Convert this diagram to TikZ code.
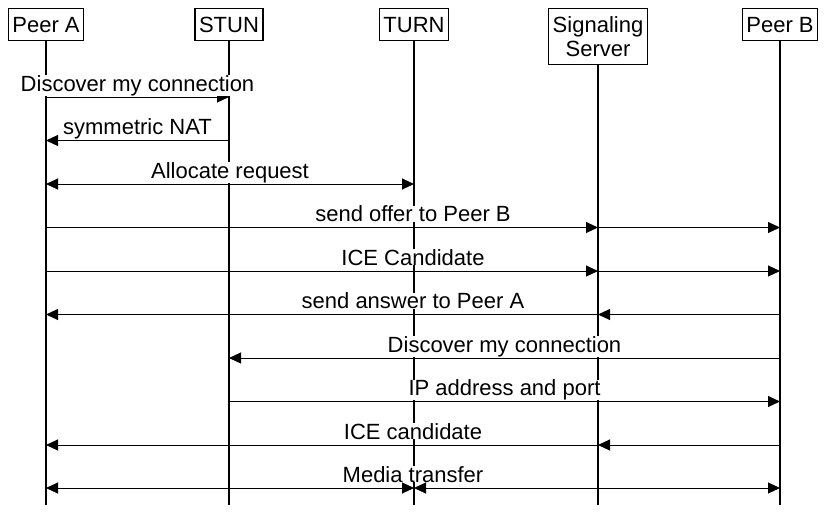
\documentclass[tikz,border=0pt]{standalone}
\usepackage{fontspec}
\setmainfont{Liberation Sans}
\usetikzlibrary{arrows.meta}
\begin{document}
\begin{tikzpicture}[x=1pt, y=1pt, font=\fontsize{22}{24}\selectfont,
  >={Triangle[length=12pt, width=11pt]},
  actor/.style = {draw, line width=1.2pt, anchor=north, inner xsep=4pt, inner ysep=3pt, minimum height=32pt},
  life/.style = {line width=2.4pt},
  msg/.style = {line width=1pt},
  lbl/.style = {fill=white, inner sep=0pt, anchor=base, yshift=6pt}]
\useasboundingbox (0,0) rectangle (828,-512);

\node[actor] (peerA) at (46,-8) {Peer A};
\node[actor] (stun) at (229,-8) {STUN};
\node[actor] (turn) at (414,-8) {TURN};
\node[actor, align=center, minimum height=56pt] (sig) at (598,-8) {Signaling\\Server};
\node[actor] (peerB) at (780,-8) {Peer B};

\coordinate (end) at (0,-505);
\draw[life] (peerA.south) -- (peerA |- end);
\draw[life] (stun.south) -- (stun |- end);
\draw[life] (turn.south) -- (turn |- end);
\draw[life] (sig.south) -- (sig |- end);
\draw[life] (peerB.south) -- (peerB |- end);

\coordinate (r1) at (0,-97);
\coordinate (r2) at (0,-140.5);
\coordinate (r3) at (0,-184);
\coordinate (r4) at (0,-227.5);
\coordinate (r5) at (0,-271);
\coordinate (r6) at (0,-314.5);
\coordinate (r7) at (0,-358);
\coordinate (r8) at (0,-401.5);
\coordinate (r9) at (0,-445);
\coordinate (r10) at (0,-488);

\draw[msg, ->] (peerA |- r1) -- node[lbl] {Discover my connection} (stun |- r1);
\draw[msg, ->] (stun |- r2) -- node[lbl] {symmetric NAT} (peerA |- r2);
\draw[msg, <->] (peerA |- r3) -- node[lbl] {Allocate request} (turn |- r3);

\path (peerA |- r4) -- node[lbl] {send offer to Peer B} (peerB |- r4);
\draw[msg, ->] (peerA |- r4) -- (sig |- r4);
\draw[msg, ->] (sig |- r4) -- (peerB |- r4);

\path (peerA |- r5) -- node[lbl] {ICE Candidate} (peerB |- r5);
\draw[msg, ->] (peerA |- r5) -- (sig |- r5);
\draw[msg, ->] (sig |- r5) -- (peerB |- r5);

\path (peerA |- r6) -- node[lbl] {send answer to Peer A} (peerB |- r6);
\draw[msg, ->] (peerB |- r6) -- (sig |- r6);
\draw[msg, ->] (sig |- r6) -- (peerA |- r6);

\draw[msg, ->] (peerB |- r7) -- node[lbl] {Discover my connection} (stun |- r7);
\draw[msg, ->] (stun |- r8) -- node[lbl] {IP address and port} (peerB |- r8);

\path (peerA |- r9) -- node[lbl] {ICE candidate} (peerB |- r9);
\draw[msg, ->] (peerB |- r9) -- (sig |- r9);
\draw[msg, ->] (sig |- r9) -- (peerA |- r9);

\path (peerA |- r10) -- node[lbl] {Media transfer} (peerB |- r10);
\draw[msg, <->] (peerA |- r10) -- (turn |- r10);
\draw[msg, <->] (turn |- r10) -- (peerB |- r10);

\end{tikzpicture}
\end{document}
